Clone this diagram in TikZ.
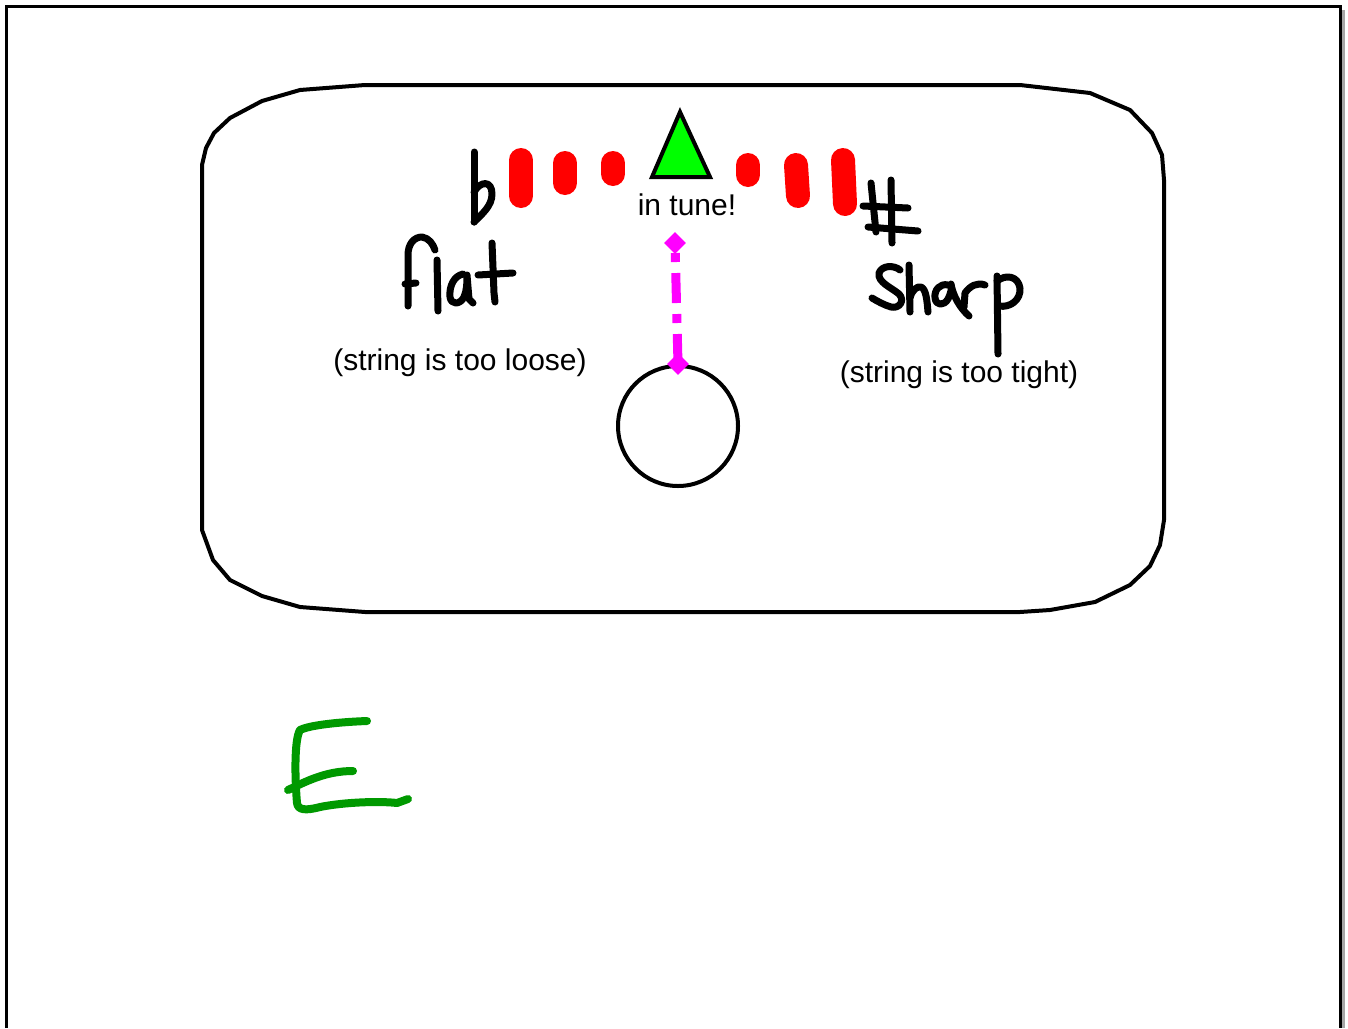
\documentclass[tikz,border=0pt]{standalone}
\usepackage{fontspec}
\setmainfont{Liberation Sans}
\usetikzlibrary{shapes.geometric}
\definecolor{pinred}{RGB}{255,0,0}
\definecolor{okgreen}{RGB}{0,255,0}
\definecolor{needlemag}{RGB}{255,0,255}
\definecolor{egreen}{RGB}{0,153,0}
\tikzset{
  frame/.style={line width=3pt, black},
  casebox/.style={line width=4pt, black, line join=round},
  pin/.style={line width=24pt, pinred, line cap=round},
  hand/.style={line width=7pt, black, line cap=round, line join=round},
  label/.style={font=\fontsize{30}{36}\selectfont, inner sep=0pt, anchor=center},
  dialcircle/.style={circle, draw=black, line width=4pt, minimum size=120pt, inner sep=0pt},
  needle/.style={line width=9pt, needlemag, dash pattern=on 30pt off 11pt on 9pt off 11pt},
  diam/.style={diamond, fill=needlemag, minimum size=22pt, inner sep=0pt},
  intune/.style={draw=black, fill=okgreen, line width=4pt, line join=miter},
  letterE/.style={line width=8pt, egreen, line cap=round, line join=round}
}
\begin{document}
\begin{tikzpicture}[x=1pt,y=-1pt]
\useasboundingbox (0,0) rectangle (1348,1028);
\fill[white] (0,0) rectangle (1348,1028);
% page frame
\draw[line width=3pt, gray!70] (1343,10) -- (1343,1028);
\draw[frame] (6,1028) -- (6,6) -- (1340,6) -- (1340,1028);
% tuner case
\draw[casebox] (202,165) -- (206,148) -- (214,133) -- (230,118) -- (262,101) -- (300,90) -- (365,85)
  -- (1020,85) -- (1090,93) -- (1130,110) -- (1152,133) -- (1162,155) -- (1164,180)
  -- (1164,520) -- (1160,545) -- (1150,566) -- (1130,585) -- (1095,602) -- (1050,610) -- (1020,612)
  -- (365,612) -- (300,607) -- (262,596) -- (230,580) -- (213,560) -- (202,530) -- cycle;
% red indicator lights
\draw[pin] (521,160) -- (521,196);
\draw[pin] (565,163) -- (565,183);
\draw[pin] (613,163) -- (613,174);
\draw[pin] (748,165) -- (748,175);
\draw[pin] (796,165) -- (798,196);
\draw[pin] (843,160) -- (845,204);
% in-tune triangle
\draw[intune] (680,112) -- (710,177) -- (652,177) -- cycle;
\node[label] (tunetext) at (687,205) {in tune!};
% flat sign
\draw[hand] (474,152) -- (474,190) -- (474,222);
\draw[hand] (474,192) .. controls (480,181) and (492,180) .. (492,194) .. controls (492,206) and (482,214) .. (474,222);
% sharp sign
\draw[hand] (871,183) -- (876,232);
\draw[hand] (891,180) -- (892,243);
\draw[hand] (863,206) -- (908,208);
\draw[hand] (868,227) -- (918,231);
% handwritten "flat"
\draw[hand] (408,306) -- (408,255) .. controls (408,244) and (414,237) .. (422,237) .. controls (429,238) and (433,244) .. (435,250);
\draw[hand] (405,284) -- (416,283);
\draw[hand] (437,260) -- (438,311);
\draw[hand] (463,274) .. controls (454,276) and (449,286) .. (450,297) .. controls (451,305) and (460,305) .. (464,297) .. controls (467,290) and (467,282) .. (467,275) -- (469,299) -- (473,303);
\draw[hand] (492,243) -- (494,293) -- (495,302);
\draw[hand] (478,275) -- (513,273);
% handwritten "Sharp"
\draw[hand] (900,270) .. controls (894,265) and (882,265) .. (879,273) .. controls (877,282) and (892,288) .. (899,294) .. controls (905,300) and (900,309) .. (891,307) .. controls (884,305) and (877,301) .. (872,298);
\draw[hand] (909,265) -- (910,312);
\draw[hand] (910,298) .. controls (912,290) and (917,286) .. (921,287) .. controls (926,289) and (927,300) .. (928,312);
\draw[hand] (948,285) .. controls (940,283) and (934,290) .. (935,298) .. controls (936,306) and (944,306) .. (948,299) .. controls (951,293) and (952,288) .. (951,284) .. controls (953,296) and (960,308) .. (969,316);
\draw[hand] (964,307) -- (965,293) .. controls (970,286) and (977,282) .. (985,285);
\draw[hand] (997,276) -- (998,354);
\draw[hand] (997,281) .. controls (1006,274) and (1018,276) .. (1020,288) .. controls (1021,300) and (1010,308) .. (999,306);
% side captions
\node[label] (loose) at (460,363) {(string is too loose)};
\node[label] (tight) at (959,375) {(string is too tight)};
% dial and needle
\node[dialcircle] (dial) at (678,426) {};
\coordinate (ntop) at (675,243);
\draw[needle] (dial.north) -- (ntop);
\node[diam] (dbase) at (dial.north) {};
\node[diam] (dtip) at (ntop) {};
% green E
\draw[letterE] (367,721) .. controls (340,722) and (310,725) .. (300,730) .. controls (294,740) and (295,780) .. (297,803) .. controls (298,810) and (305,811) .. (320,807) .. controls (345,802) and (380,801) .. (397,803) -- (408,799);
\draw[letterE] (288,790) .. controls (305,782) and (325,771) .. (353,771);
\end{tikzpicture}
\end{document}
